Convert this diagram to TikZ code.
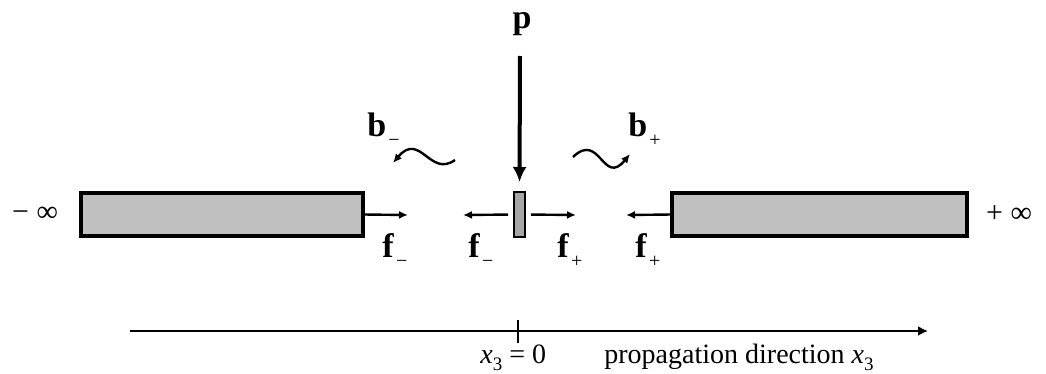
\documentclass[tikz,border=0pt]{standalone}
\usepackage{fontspec}
\setmainfont{Liberation Serif}
\usetikzlibrary{arrows.meta}
\definecolor{SlabFill}{HTML}{C0C0C0}
\definecolor{SheetFill}{HTML}{A6A6A6}
\newcommand{\wavelab}[2]{\textbf{#1}\hspace{1pt}\raisebox{-5pt}{\fontsize{10}{10}\selectfont #2}}
\newcommand{\xthree}{\textit{x}\raisebox{-3.5pt}{\fontsize{9.5}{9.5}\selectfont 3}}
\tikzset{
  slab/.style={draw=black, line width=1.6pt, fill=SlabFill, inner sep=0pt, outer sep=0pt, minimum height=21.5pt},
  sheet/.style={draw=black, line width=1.2pt, fill=SheetFill, inner sep=0pt, outer sep=0pt, minimum width=5.5pt, minimum height=22.5pt},
  flux/.style={-{Latex[length=4.5pt,width=4pt]}, line width=1.2pt},
  load/.style={-{Latex[length=7.5pt,width=7pt]}, line width=2pt},
  wave/.style={-{Latex[length=4.5pt,width=4pt]}, line width=1.2pt},
  axis/.style={-{Latex[length=5pt,width=5pt]}, line width=1.2pt},
  sym/.style={font=\fontsize{17}{17}\selectfont, anchor=base west, inner sep=0pt},
  plain/.style={font=\fontsize{14}{14}\selectfont, anchor=base west, inner sep=0pt},
}
\begin{document}
\begin{tikzpicture}[x=0.5pt,y=-0.5pt]
  \useasboundingbox (0,0) rectangle (1046,374);
  % half-spaces and the sheet at x3 = 0
  \node[slab, minimum width=141pt] (lbox) at (222,214.5) {};
  \node[slab, minimum width=147.5pt] (rbox) at (819.5,214.5) {};
  \node[sheet] (sheet) at (519.5,214.5) {};
  \node[font=\fontsize{15}{15}\selectfont] (minf) at (35,214) {− ∞};
  \node[font=\fontsize{15}{15}\selectfont] (pinf) at (1009,214) {+ ∞};
  % load p
  \node[font=\fontsize{17}{17}\selectfont\bfseries, anchor=base, inner sep=0pt] (plab) at (522,29) {p};
  \coordinate (ptop) at (520,56);
  \draw[load, shorten >=5pt] (ptop) -- (sheet.north);
  % forward fields
  \coordinate (fa) at (408,215);
  \coordinate (fb) at (463,215);
  \coordinate (fc) at (576,215);
  \coordinate (fd) at (626,215);
  \draw[flux] (lbox.east) -- (fa);
  \draw[flux, shorten <=3pt] (sheet.west) -- (fb);
  \draw[flux, shorten <=3pt] (sheet.east) -- (fc);
  \draw[flux] (rbox.west) -- (fd);
  \node[sym] (fl1) at (382,258) {\wavelab{f}{−}};
  \node[sym] (fl2) at (468,258) {\wavelab{f}{−}};
  \node[sym] (fr1) at (557,258) {\wavelab{f}{+}};
  \node[sym] (fr2) at (635,258) {\wavelab{f}{+}};
  % backward (radiated) waves
  \coordinate (bls) at (455,160);
  \coordinate (ble) at (393,163);
  \coordinate (brs) at (573,157);
  \coordinate (bre) at (630,154);
  \draw[wave] (bls) .. controls (430,178) and (420,131) .. (ble);
  \draw[wave] (brs) .. controls (600,131) and (603,187) .. (bre);
  \node[sym] (bl) at (367,137) {\wavelab{b}{−}};
  \node[sym] (br) at (628,137) {\wavelab{b}{+}};
  % propagation axis
  \coordinate (axl) at (130,331);
  \coordinate (axr) at (928,331);
  \coordinate (tkt) at (518,320);
  \coordinate (tkb) at (518,343);
  \draw[axis] (axl) -- (axr);
  \draw[line width=1.2pt] (tkt) -- (tkb);
  \node[plain] (zero) at (480,364) {\xthree{} = 0};
  \node[plain] (dir) at (604,364) {propagation direction \xthree};
\end{tikzpicture}
\end{document}
